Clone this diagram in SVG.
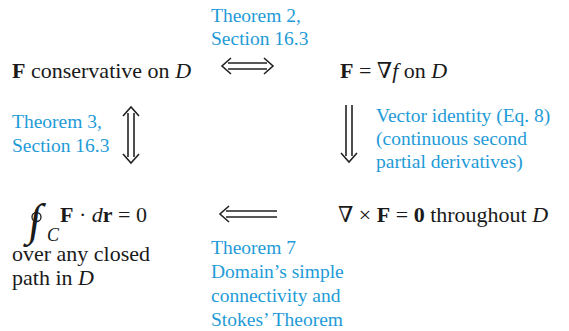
<svg xmlns="http://www.w3.org/2000/svg" width="569" height="331" viewBox="0 0 569 331">
<style>
text{font-family:'Liberation Serif','Times New Roman',Times,'DejaVu Serif',serif}
.b{font-size:22px;fill:#1a1a1a}
.l{font-size:19.5px;fill:#1e9bd7}
.bf{font-weight:bold}
.it{font-style:italic}
.ar{fill:none;stroke:#222;stroke-width:1.6}
</style>
<rect width="569" height="331" fill="#fff"/>
<g id="n_conservative"><text class="b" x="12" y="78"><tspan class="bf">F</tspan> conservative on <tspan class="it">D</tspan></text></g>
<g id="n_gradient"><text class="b" x="340" y="78"><tspan class="bf">F</tspan> = ∇<tspan class="it">f</tspan> on <tspan class="it">D</tspan></text></g>
<g id="n_curl"><text class="b" x="338" y="222">∇ × <tspan class="bf">F</tspan> = <tspan class="bf">0</tspan> throughout <tspan class="it">D</tspan></text></g>
<g id="n_integral">
<text x="0" y="0" transform="translate(27,235) skewX(-8)" style="font-size:45px;fill:#1a1a1a">∫</text>
<ellipse cx="36.5" cy="217" rx="4.5" ry="4.5" fill="none" stroke="#1a1a1a" stroke-width="1.3"/>
<text class="b it" x="47" y="241" style="font-size:18px">C</text>
<text class="b" x="60" y="222"><tspan class="bf">F</tspan> · <tspan class="it">d</tspan><tspan class="bf">r</tspan> = 0</text>
<text class="b" x="12" y="261">over any closed</text>
<text class="b" x="12" y="285">path in <tspan class="it">D</tspan></text>
</g>
<g id="labels">
<text class="l" x="211" y="22">Theorem 2,</text>
<text class="l" x="211" y="45">Section 16.3</text>
<text class="l" x="12" y="128">Theorem 3,</text>
<text class="l" x="12" y="152">Section 16.3</text>
<text class="l" x="376" y="122">Vector identity (Eq. 8)</text>
<text class="l" x="376" y="145">(continuous second</text>
<text class="l" x="376" y="168">partial derivatives)</text>
<text class="l" x="211" y="254">Theorem 7</text>
<text class="l" x="211" y="278">Domain’s simple</text>
<text class="l" x="211" y="302">connectivity and</text>
<text class="l" x="211" y="326">Stokes’ Theorem</text>
</g>
<g id="connectors">
<path class="ar" d="M228 63H267M228 69H267M231 58L222 66L231 74M264 58L273 66L264 74"/>
<path class="ar" d="M128 113V157M134 113V157M123 116L131 107L139 116M123 154L131 163L139 154"/>
<path class="ar" d="M346 105V156M352 105V156M341 153L349 162L357 153"/>
<path class="ar" d="M226 211H277M226 217H277M229 206L220 214L229 222"/>
</g>
</svg>
